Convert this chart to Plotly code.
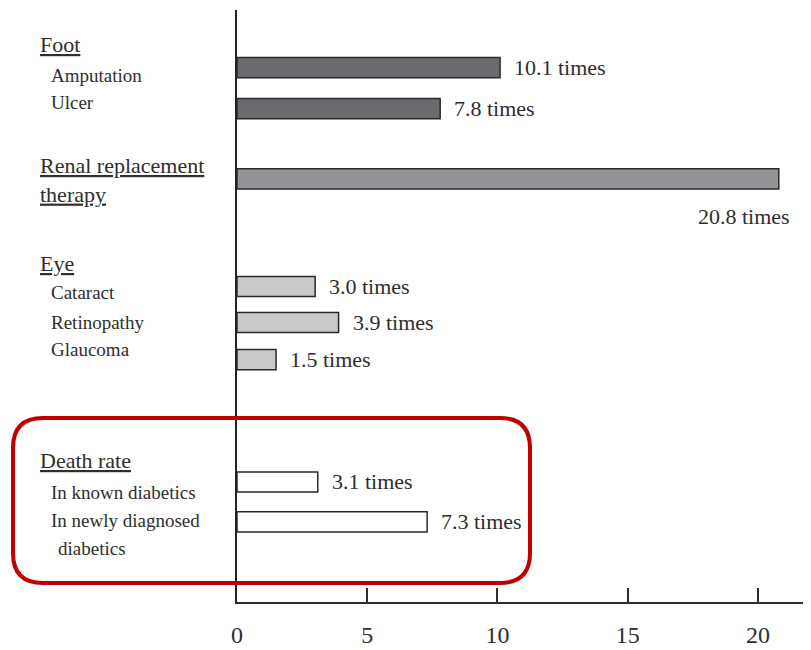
import plotly.graph_objects as go

# ---- data -------------------------------------------------------------
items = ["Amputation", "Ulcer", "Renal replacement therapy",
         "Cataract", "Retinopathy", "Glaucoma",
         "In known diabetics", "In newly diagnosed diabetics"]
groups = ["Foot", "Foot", "Renal", "Eye", "Eye", "Eye", "Death", "Death"]
values = [10.1, 7.8, 20.8, 3.0, 3.9, 1.5, 3.1, 7.3]
value_labels = [f"{v:.1f} times" for v in values]

headings = ["Foot", "Renal replacement<br>therapy", "Eye", "Death rate"]
item_texts = ["Amputation", "Ulcer", "Cataract", "Retinopathy", "Glaucoma",
              "In known diabetics", "In newly diagnosed", "diabetics"]
x_ticks = [0, 5, 10, 15, 20]

# ---- layout helpers (row slots in "line" units, top = 0) ---------------
bar_rows = [1.60, 2.74, 4.69, 7.68, 8.68, 9.71, 13.11, 14.22]
heading_rows = [0.97, 4.72, 7.03, 12.5]
item_rows = [1.81, 2.58, 7.86, 8.67, 9.44, 13.39, 14.19, 14.97]
item_indent = [0, 0, 0, 0, 0, 0, 0, 7]

group_fill = {"Foot": "#6a6b6f", "Renal": "#939497",
              "Eye": "#c9c9c9", "Death": "#ffffff"}

W, H = 811, 650
ML, MR, MT, MB = 237, 8, 10, 48
PW, PH = W - ML - MR, H - MT - MB
FONT = "Liberation Serif, Times New Roman, serif"
INK = "#2e2e2e"


def px_x(X):
    return (X - ML) / PW


def px_y(Y):
    return 1 - (Y - MT) / PH


fig = go.Figure()
fig.add_trace(go.Bar(
    x=values, y=bar_rows, orientation="h", width=0.56,
    marker=dict(color=[group_fill[g] for g in groups],
                line=dict(color="#2a2a2a", width=1.5)),
    hoverinfo="skip", showlegend=False,
))

ann = []
# value labels next to each bar
for i, (v, lab, r) in enumerate(zip(values, value_labels, bar_rows)):
    if groups[i] == "Renal":
        ann.append(dict(x=v, y=r, xref="x", yref="y", text=lab,
                        xanchor="right", yanchor="middle", xshift=13,
                        yshift=-38, showarrow=False,
                        font=dict(family=FONT, size=22, color=INK)))
    else:
        ann.append(dict(x=v, y=r, xref="x", yref="y", text=lab,
                        xanchor="left", yanchor="middle", xshift=12,
                        showarrow=False,
                        font=dict(family=FONT, size=22, color=INK)))

# group headings (underlined)
for h, r in zip(headings, heading_rows):
    txt = "<br>".join(f"<u>{part}</u>" for part in h.split("<br>"))
    ann.append(dict(x=px_x(38), y=r, xref="paper", yref="y", text=txt,
                    xanchor="left", yanchor="middle", align="left",
                    showarrow=False,
                    font=dict(family=FONT, size=22, color=INK)))

# item names
for t, r, d in zip(item_texts, item_rows, item_indent):
    ann.append(dict(x=px_x(49 + d), y=r, xref="paper", yref="y", text=t,
                    xanchor="left", yanchor="middle", showarrow=False,
                    font=dict(family=FONT, size=19, color=INK)))

# rounded highlight frame around the death-rate block
x0, x1, y0, y1, rad = 13, 530, 418, 583, 30
rx, ry = rad / PW, rad / PH
a0, a1, b0, b1 = px_x(x0), px_x(x1), px_y(y1), px_y(y0)
path = (f"M {a0 + rx},{b1} L {a1 - rx},{b1} Q {a1},{b1} {a1},{b1 - ry} "
        f"L {a1},{b0 + ry} Q {a1},{b0} {a1 - rx},{b0} "
        f"L {a0 + rx},{b0} Q {a0},{b0} {a0},{b0 + ry} "
        f"L {a0},{b1 - ry} Q {a0},{b1} {a0 + rx},{b1} Z")

fig.update_layout(
    width=W, height=H,
    margin=dict(l=ML, r=MR, t=MT, b=MB),
    paper_bgcolor="white", plot_bgcolor="white",
    font=dict(family=FONT, color=INK),
    annotations=ann,
    shapes=[dict(type="path", path=path, xref="paper", yref="paper",
                 line=dict(color="#c00000", width=4), layer="above")],
    xaxis=dict(range=[0, 21.73], tickvals=x_ticks, ticks="inside",
               ticklen=14, tickwidth=1.5, tickcolor=INK,
               showline=True, linecolor=INK, linewidth=1.5,
               showgrid=False, zeroline=False, automargin=False,
               tickfont=dict(family=FONT, size=24, color=INK),
               ticklabelstandoff=10),
    yaxis=dict(range=[PH / 36, 0], showline=True, linecolor="#222222",
               linewidth=1.5, showticklabels=False, ticks="",
               showgrid=False, zeroline=False, automargin=False),
)

fig.write_html("out.html")
